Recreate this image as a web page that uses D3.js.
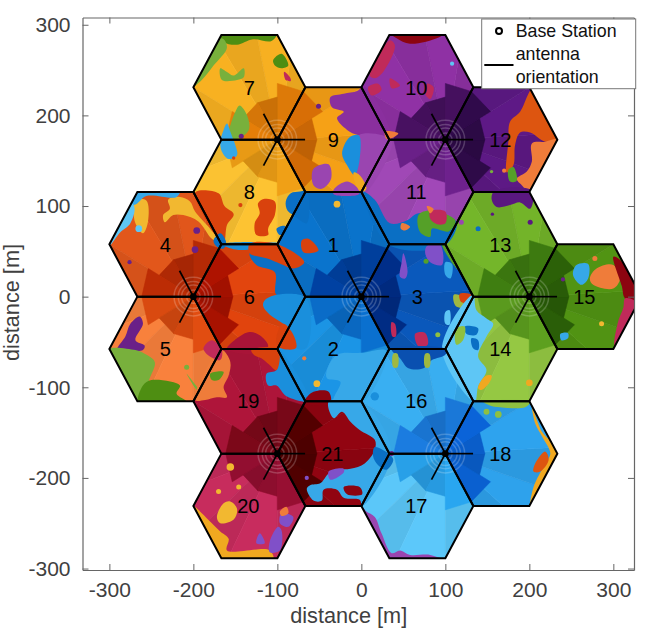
<!DOCTYPE html>
<html>
<head>
<meta charset="utf-8">
<script src="https://cdn.jsdelivr.net/npm/d3@7"></script>
<style>
  body { margin: 0; background: #fff; }
  text { font-family: "Liberation Sans", Arial, sans-serif; }
</style>
</head>
<body>
<script>
// base stations, metres
const siteX = [0, -200, -100, 100, 200, 100, -100];
const siteY = [0, 0, 173.2, 173.2, 0, -173.2, -173.2];
const sectorAz = [120, 240, 0];
const cellRadius = 66.67;
const antennaLength = 33;

const xTicks = [-300, -200, -100, 0, 100, 200, 300];
const yTicks = [-300, -200, -100, 0, 100, 200, 300];

// per cell colours, cell 1 first
const cellOuter = ["#0a6fc4", "#1a8fdc", "#0a55b4", "#d9531a", "#ef7c3a", "#d9420d", "#eeaa20",
  "#f2bb30", "#ec9a15", "#8a2f9e", "#9a45b0", "#5a1880", "#6fae28", "#8fc040", "#4e8e12",
  "#37a8e8", "#58c0f0", "#2c9ce4", "#a81438", "#c02a5a", "#8c0410"];
const cellInner = ["#003f9c", "#0a6cc8", "#002c84", "#b52a05", "#d94a10", "#a81200", "#dd7a08",
  "#e89a15", "#d06a06", "#45105e", "#6a2088", "#2e0a48", "#3d7a10", "#5a9a1e", "#2a5e08",
  "#1a78d8", "#28a0e8", "#0a60d0", "#780818", "#920e30", "#500000"];
const extraFill = { lg: "#78b03c", dg: "#4e8e12", sky: "#36a8e8", pale: "#5ec6f5", red: "#d9420d",
  plum: "#6a2088", lav: "#9a45b0", crim: "#c02a5a", yel: "#f2b830", amber: "#f0a820", org: "#ef7c3a",
  blue: "#0a6fc4", mid: "#1a8fdc", navy: "#0a50b0", mgreen: "#55a028", ygreen: "#a0b840", vio: "#8050c8",
  rust: "#dd5510" };

// tile layout of one sector, degrees off the boresight
const outerEdges = [-62, -40, -18, 3, 30, 62];
const outerShade = [0.08, -0.1, 0.06, -0.12, 0.05];
const innerEdges = [-62, -30, 0, 30, 62];
const innerReach = [62, 47, 47, 62];
const innerShade = [0, 0.25, 0.1, -0.1];

// foreign-coverage patches, metres, in draw order
const patchesNorth = [
  ["dg", [[-170,292],[-100,292],[-107,282],[-129,284],[-148,278],[-164,281]]],
  ["lg", [[-166,285],[-160,275],[-176,255],[-190,239],[-202,231],[-195,270]]],
  ["dg", [[-105,261],[-95,268],[-87,255],[-95,252],[-103,255]]],
  ["o20", [[-92,248],[-85,242],[-84,238],[-90,239]]],
  ["lg", [[-168,252],[-160,248],[-152,244],[-140,252],[-140,242],[-148,239],[-166,239]]],
  ["lg", [[-145,211],[-136,200],[-134,184],[-148,174],[-160,174],[-156,189],[-150,204]]],
  ["sky", [[-160,191],[-156,182],[-150,167],[-148,156],[-158,152],[-166,160],[-168,171],[-164,184]]],
  ["o10", [[-37,220],[-21,224],[-5,227],[4,232],[36,172],[-3,178],[-17,184],[-29,197],[-21,204],[-35,209]]],
  ["lav", [[-3,178],[36,172],[2,112],[-3,118],[-8,134],[-5,152]]],
  ["mid", [[-14,176],[-3,178],[-2,152],[-8,134],[-17,145],[-23,158]]],
  ["lav", [[-57,141],[-39,146],[-36,130],[-47,119],[-57,123]]],
  ["lav", [[-33,118],[-17,127],[-3,118],[-3,113],[-33,113]]],
  ["amber", [[-9,137],[-2,134],[6,119],[0,115],[-8,127]]],
  ["org", [[28,182],[44,180],[34,174],[30,174]]],
  ["o21", [[33,292],[101,292],[92,286],[58,279],[42,285]]],
  ["crim", [[34,283],[40,277],[26,248],[16,241],[10,244]]],
  ["crim", [[8,231],[20,235],[24,228],[12,222]]],
  ["crim", [[34,241],[46,233],[36,230]]],
  ["crim", [[78,235],[86,231],[82,218],[76,224]]],
  ["rust", [[177,193],[189,204],[205,230],[236,174],[219,171],[201,181],[189,181],[183,167],[181,145],[173,137],[175,171]]],
  ["org", [[203,169],[219,171],[236,174],[202,114],[191,123],[185,130],[197,138],[203,149]]],
  ["mgreen", [[175,140],[181,143],[185,128],[177,127]]],
  ["o12", [[159,117],[203,117],[201,97],[189,104],[177,101],[161,99],[155,108]]],
  ["blue", [[2,116],[16,107],[34,81],[54,84],[68,92],[113,83],[100,57],[33,57]]],
  ["mgreen", [[68,90],[82,95],[112,84],[104,72],[84,75],[82,66],[70,71]]],
  ["o20", [[82,94],[100,94],[100,81],[90,80],[82,86]]],
  ["org", [[78,100],[86,97],[82,92]]],
  ["org", [[48,81],[58,77],[52,73],[47,75]]]
];

const patchesWest = [
  ["blue", [[-90,105],[-84,114],[-73,116],[-65,116],[-65,81],[-81,90],[-88,95]]],
  ["red", [[-71,62],[-63,64],[-51,51],[-69,49]]],
  ["red", [[-198,115],[-170,114],[-163,100],[-152,91],[-160,79],[-164,59],[-174,68],[-188,90]]],
  ["red", [[-123,103],[-115,108],[-103,105],[-103,90],[-111,75],[-111,68],[-125,68],[-127,81],[-121,92]]],
  ["blue", [[-101,75],[-91,78],[-89,71],[-97,68]]],
  ["yel", [[-236,90],[-228,97],[-230,107],[-216,110],[-204,105],[-198,94],[-180,75],[-168,60],[-178,64],[-194,83],[-212,90],[-224,90],[-234,82]]],
  ["yel", [[-269,106],[-256,106],[-254,83],[-260,70],[-269,81],[-271,94]]],
  ["sky", [[-265,118],[-216,118],[-220,110],[-256,111],[-271,101],[-300,112]]],
  ["pale", [[-271,101],[-275,81],[-287,71],[-302,55],[-300,112]]],
  ["blue", [[-176,62],[-168,70],[-161,60],[-164,53],[-172,55]]],
  ["blue", [[-133,48],[-95,49],[-85,31],[-68,2],[-101,2],[-103,27],[-125,35]]],
  ["mid", [[-101,2],[-68,0],[-60,-20],[-66,-57],[-77,-57],[-81,-42],[-93,-30],[-109,-20],[-117,-10],[-115,-4]]],
  ["mid", [[-166,58],[-100,59],[-133,52],[-150,52]]],
  ["red", [[-133,58],[-101,58],[-68,38],[-81,31],[-96,36],[-112,42],[-133,48]]],
  ["plum", [[-275,-30],[-264,-22],[-260,-30],[-269,-48],[-258,-54],[-260,-59],[-275,-61],[-285,-65],[-291,-59],[-281,-44]]],
  ["lg", [[-269,-59],[-258,-63],[-246,-72],[-252,-90],[-265,-116],[-303,-59]]],
  ["dg", [[-265,-116],[-260,-98],[-250,-92],[-216,-98],[-220,-107],[-208,-116]]],
  ["lg", [[-208,-85],[-186,-112],[-196,-103]]],
  ["org", [[-198,-114],[-180,-72],[-166,-59],[-156,-72],[-158,-87],[-164,-100],[-160,-111],[-172,-111],[-186,-114]]],
  ["o20", [[-188,-57],[-178,-48],[-166,-59],[-168,-70],[-182,-65]]],
  ["i14", [[-180,-85],[-164,-83],[-170,-92],[-178,-92]]],
  ["o19", [[-160,-58],[-148,-46],[-133,-39],[-119,-44],[-111,-55],[-127,-61],[-129,-63]]],
  ["mid", [[-100,-57],[-62,-115],[-89,-110],[-101,-98],[-111,-98],[-113,-85],[-101,-81]]],
  ["red", [[-131,-59],[-99,-58],[-101,-81],[-111,-74],[-119,-68],[-127,-65]]],
  ["red", [[-100,-55],[-78,-57],[-81,-42],[-93,-30],[-100,-40]]]
];

const patchesEast = [
  ["vio", [[50,48],[55,27],[52,20],[46,22],[48,38]]],
  ["vio", [[78,56],[94,57],[96,35],[82,38],[76,48]]],
  ["mgreen", [[96,58],[100,58],[115,30],[106,40]]],
  ["sky", [[100,38],[108,36],[106,20],[100,24]]],
  ["ygreen", [[110,2],[120,0],[121,-12],[112,-10]]],
  ["red", [[117,3],[131,2],[129,-6],[119,-6]]],
  ["pale", [[100,-17],[105,-15],[105,-31],[100,-30]]],
  ["o20", [[36,-28],[40,-30],[41,-44],[37,-44]]],
  ["o20", [[64,-41],[76,-40],[79,-53],[68,-55]]],
  ["pale", [[133,2],[137,-15],[149,-24],[157,-30],[149,-44],[139,-66],[149,-81],[139,-99],[135,-116],[96,-58]]],
  ["blue", [[123,-33],[139,-35],[137,-42],[125,-41]]],
  ["blue", [[131,-46],[139,-48],[139,-59],[133,-57]]],
  ["o14", [[113,-35],[123,-33],[121,-48],[113,-53]]],
  ["amber", [[139,-101],[147,-88],[155,-87],[153,-94],[143,-103]]],
  ["sky", [[256,35],[270,36],[270,20],[262,13],[252,24]]],
  ["org", [[280,31],[300,35],[308,20],[300,9],[276,13],[272,20]]],
  ["o21", [[300,44],[306,42],[330,12],[330,-8],[314,-2],[310,12]]],
  ["crim", [[314,-2],[330,-8],[330,-62],[303,-60],[305,-30],[312,-12]]],
  ["sky", [[237,-41],[246,-40],[246,-46],[238,-48]]]
];

const patchesSouth = [
  ["navy", [[36,-58],[101,-58],[100,-64],[84,-70],[74,-79],[56,-79],[46,-68]]],
  ["ygreen", [[38,-63],[43,-63],[43,-78],[38,-78]]],
  ["ygreen", [[76,-63],[81,-63],[81,-78],[76,-78]]],
  ["o14", [[145,-116],[201,-116],[195,-122],[165,-122],[153,-120]]],
  ["amber", [[203,-120],[215,-149],[236,-173],[201,-233],[205,-210],[219,-184],[225,-173],[215,-154],[207,-140]]],
  ["rust", [[207,-184],[219,-171],[223,-180],[213,-193],[205,-193]]],
  ["o11", [[1,-232],[34,-292],[100,-292],[82,-285],[58,-285],[46,-280],[36,-283],[24,-261],[16,-243],[6,-237]]],
  ["o21", [[-67,-114],[-57,-105],[-39,-105],[-37,-118],[-67,-118]]],
  ["o16", [[-39,-116],[-33,-134],[-23,-127],[-13,-138],[-2,-147],[16,-158],[16,-169],[4,-184],[-13,-190],[-29,-191],[-39,-195],[-49,-206],[-61,-208],[-65,-212],[-57,-225],[-47,-225],[-45,-213],[-29,-213],[-21,-222],[-2,-224],[1,-231],[36,-173],[0,-116]]],
  ["o21", [[-21,-210],[-2,-210],[1,-218],[-17,-218]]],
  ["vio", [[-39,-193],[-21,-190],[-21,-194],[-37,-202]]],
  ["blue", [[16,-166],[32,-173],[38,-180],[30,-191],[20,-186],[14,-176]]],
  ["o16", [[-41,-81],[-29,-64],[0,-62],[30,-60],[2,-116],[-33,-116],[-25,-94],[-41,-90]]],
  ["amber", [[-198,-232],[-166,-292],[-105,-292],[-109,-280],[-160,-280],[-158,-267],[-168,-259],[-178,-250],[-190,-239]]],
  ["yel", [[-172,-243],[-164,-228],[-156,-226],[-148,-234],[-152,-246],[-168,-250]]],
  ["vio", [[-95,-239],[-81,-243],[-87,-254],[-97,-250]]],
  ["vio", [[-99,-254],[-95,-258],[-97,-280],[-109,-282],[-109,-270]]],
  ["vio", [[-121,-261],[-115,-272],[-125,-272]]],
  ["org", [[-97,-237],[-89,-232],[-87,-239],[-95,-242]]]
];

// small spots: x, y, radius in metres, fill
const spots = [
  [-51,210,3,"plum"], [-143,177,3,"plum"], [-152,153,2,"red"], [-29,102,4,"yel"], [-144,101,2.5,"red"],
  [-265,75,4,"pale"], [-196,73,4,"plum"], [-198,52,4,"plum"], [-276,38,2.5,"plum"], [-208,-78,3,"lg"],
  [-53,-96,4,"yel"], [-68,-68,2.5,"org"], [-65,-200,2.5,"vio"], [-156,-188,4.5,"yel"], [-170,-215,3,"yel"],
  [-146,-210,3,"yel"], [108,257,2.5,"pale"], [201,82,3,"o12"], [156,91,2,"o12"], [139,75,3,"blue"],
  [119,82,3,"lav"], [278,42,3,"org"], [286,-30,3,"yel"], [240,19,2.5,"plum"], [91,-42,3,"o14"],
  [200,-95,4,"amber"], [149,-127,3.5,"o14"], [163,-130,4,"o14"], [16,-110,5,"mid"], [36,-173,3,"plum"],
  [155,138,2,"lg"], [170,139,2.5,"org"], [77,39,3,"mgreen"]
];

const cellLabels = d3.range(1, 22);
const ringRadii = [8, 14, 18, 23];
const axisTitle = "distance [m]";
const legendLabels = ["Base Station", "antenna", "orientation"];

const width = 648;
const height = 639;
const box = { left: 82.5, right: 634, top: 17.5, bottom: 570 };

const x = d3.scaleLinear().domain([-332, 324.6]).range([box.left, box.right]);
const y = d3.scaleLinear().domain([-301.6, 308]).range([box.bottom, box.top]);

const svg = d3.select("body").append("svg").attr("width", width).attr("height", height);
const defs = svg.append("defs");

const polar = (cx, cy, az, r) => [cx + r * Math.cos(az * Math.PI / 180), cy + r * Math.sin(az * Math.PI / 180)];
const toPath = (pts) => "M" + pts.map((p) => x(p[0]) + "," + y(p[1])).join("L") + "Z";

const palette = Object.assign({}, extraFill);
cellOuter.forEach((c, i) => { palette["o" + (i + 1)] = c; });
cellInner.forEach((c, i) => { palette["i" + (i + 1)] = c; });

// cells from the sites
const cells = [];
siteX.forEach((sx, s) => {
  sectorAz.forEach((az, k) => {
    const c = polar(sx, siteY[s], az, cellRadius);
    cells.push({
      id: s * 3 + k + 1, sx, sy: siteY[s], az, cx: c[0], cy: c[1],
      hex: d3.range(6).map((i) => polar(c[0], c[1], i * 60, cellRadius))
    });
  });
});

defs.append("clipPath").attr("id", "plot").append("rect")
  .attr("x", box.left).attr("y", box.top)
  .attr("width", box.right - box.left).attr("height", box.bottom - box.top);
defs.append("clipPath").attr("id", "hexes").append("path")
  .attr("d", cells.map((c) => toPath(c.hex)).join(""));
cells.forEach((c) => {
  defs.append("clipPath").attr("id", "cell" + c.id).append("path").attr("d", toPath(c.hex));
});

const plot = svg.append("g").attr("clip-path", "url(#plot)");
const cover = plot.append("g").attr("clip-path", "url(#hexes)");

// beam tiles, stroked in their own fill so the seams do not show
cells.forEach((c) => {
  const g = cover.append("g").attr("clip-path", "url(#cell" + c.id + ")");
  const base = cellOuter[c.id - 1];
  const inner = cellInner[c.id - 1];
  outerShade.forEach((k, i) => {
    const pts = [[c.sx, c.sy],
      polar(c.sx, c.sy, c.az + outerEdges[i], 170),
      polar(c.sx, c.sy, c.az + outerEdges[i + 1], 170)];
    const fill = d3.rgb(base).darker(k).formatHex();
    g.append("path").attr("d", toPath(pts)).attr("fill", fill).attr("stroke", fill).attr("stroke-width", 0.6);
  });
  innerShade.forEach((k, i) => {
    const pts = [[c.sx, c.sy],
      polar(c.sx, c.sy, c.az + innerEdges[i], innerReach[i]),
      polar(c.sx, c.sy, c.az + innerEdges[i + 1], innerReach[i])];
    const fill = d3.rgb(inner).darker(k).formatHex();
    g.append("path").attr("d", toPath(pts)).attr("fill", fill).attr("stroke", fill).attr("stroke-width", 0.6);
  });
});

// foreign coverage
const blob = d3.line().x((p) => x(p[0])).y((p) => y(p[1])).curve(d3.curveCatmullRomClosed.alpha(0.5));
[patchesNorth, patchesWest, patchesEast, patchesSouth].forEach((list) => {
  list.forEach((p) => {
    cover.append("path").attr("d", blob(p[1])).attr("fill", palette[p[0]]);
  });
});
cover.selectAll("circle.spot").data(spots).enter().append("circle")
  .attr("class", "spot")
  .attr("cx", (d) => x(d[0])).attr("cy", (d) => y(d[1]))
  .attr("r", (d) => x(d[2]) - x(0)).attr("fill", (d) => palette[d[3]]);

// rings around each site
siteX.forEach((sx, s) => {
  ringRadii.forEach((r) => {
    plot.append("circle").attr("cx", x(sx)).attr("cy", y(siteY[s]))
      .attr("r", x(r) - x(0)).attr("fill", "none")
      .attr("stroke", "#fff").attr("stroke-opacity", 0.2).attr("stroke-width", 1.5);
  });
});

// cell outlines
plot.selectAll("path.hex").data(cells).enter().append("path")
  .attr("class", "hex").attr("d", (c) => toPath(c.hex))
  .attr("fill", "none").attr("stroke", "#000").attr("stroke-width", 2);

// antenna orientation and sites
siteX.forEach((sx, s) => {
  sectorAz.forEach((az) => {
    const end = polar(sx, siteY[s], az, antennaLength);
    plot.append("line").attr("x1", x(sx)).attr("y1", y(siteY[s]))
      .attr("x2", x(end[0])).attr("y2", y(end[1]))
      .attr("stroke", "#000").attr("stroke-width", 1.7);
  });
  plot.append("circle").attr("cx", x(sx)).attr("cy", y(siteY[s])).attr("r", 3.4).attr("fill", "#000");
});

// cell numbers
plot.selectAll("text.cell").data(cells).enter().append("text")
  .attr("class", "cell")
  .attr("x", (c) => x(c.cx) - (c.id < 10 ? 0 : 1))
  .attr("y", (c) => y(c.cy))
  .attr("dy", "0.36em").attr("text-anchor", "middle")
  .attr("font-size", 20).attr("fill", "#000")
  .text((c, i) => cellLabels[i]);

// axes, matlab style box with inward ticks
const tickIn = -6;
const styleAxis = (g) => {
  g.selectAll("path.domain").attr("stroke", "#666").attr("stroke-width", 1.2);
  g.selectAll(".tick line").attr("stroke", "#666").attr("stroke-width", 1);
  g.selectAll(".tick text").attr("fill", "#404040").attr("font-size", 21)
    .attr("font-family", "Liberation Sans, Arial, sans-serif");
};
const plain = (d) => String(d);
svg.append("g").attr("transform", `translate(0,${box.bottom})`)
  .call(d3.axisBottom(x).tickValues(xTicks).tickSizeInner(tickIn).tickSizeOuter(0).tickPadding(12)
    .tickFormat(plain)).call(styleAxis);
svg.append("g").attr("transform", `translate(0,${box.top})`)
  .call(d3.axisTop(x).tickValues(xTicks).tickSizeInner(tickIn).tickSizeOuter(0).tickFormat("")).call(styleAxis);
svg.append("g").attr("transform", `translate(${box.left},0)`)
  .call(d3.axisLeft(y).tickValues(yTicks).tickSizeInner(tickIn).tickSizeOuter(0).tickPadding(12)
    .tickFormat(plain)).call(styleAxis);
svg.append("g").attr("transform", `translate(${box.right},0)`)
  .call(d3.axisRight(y).tickValues(yTicks).tickSizeInner(tickIn).tickSizeOuter(0).tickFormat("")).call(styleAxis);

svg.append("text").attr("x", 348.7).attr("y", 623).attr("text-anchor", "middle")
  .attr("font-size", 21.7).attr("fill", "#404040").text(axisTitle);
svg.append("text").attr("transform", "translate(19,302.5) rotate(-90)").attr("text-anchor", "middle")
  .attr("font-size", 21.7).attr("fill", "#404040").text(axisTitle);

// legend
const legend = svg.append("g");
legend.append("rect").attr("x", 481.7).attr("y", 19).attr("width", 154).attr("height", 69.7)
  .attr("fill", "#fff").attr("stroke", "#777").attr("stroke-width", 1);
legend.append("circle").attr("cx", 499).attr("cy", 31).attr("r", 3)
  .attr("fill", "none").attr("stroke", "#000").attr("stroke-width", 2);
legend.append("line").attr("x1", 484.3).attr("x2", 513.5).attr("y1", 65).attr("y2", 65)
  .attr("stroke", "#000").attr("stroke-width", 2);
legendLabels.forEach((t, i) => {
  legend.append("text").attr("x", 515.7).attr("y", 37 + i * 23).attr("font-size", 17.8).attr("fill", "#111").text(t);
});
</script>
</body>
</html>
